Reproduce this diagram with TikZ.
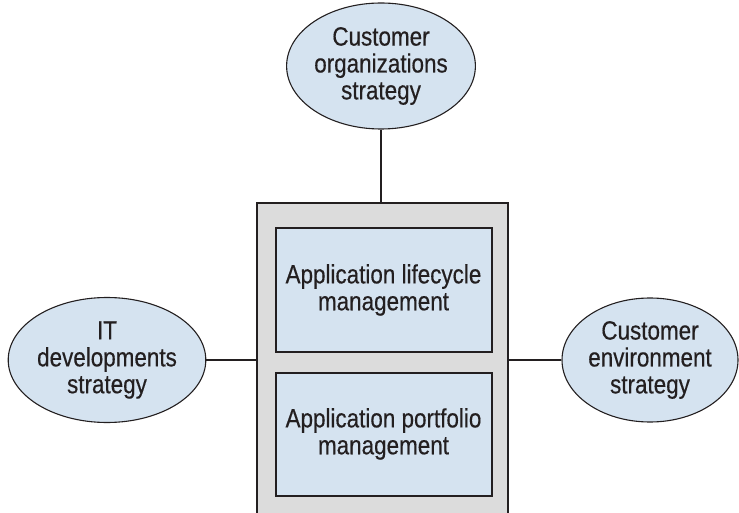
\documentclass[tikz,border=0pt]{standalone}
\usepackage{fontspec}
\setmainfont{Liberation Sans}[FakeStretch=0.85,FakeBold=0.4]
\usetikzlibrary{shapes.geometric}
\definecolor{lineC}{HTML}{231F20}
\definecolor{blueF}{HTML}{D5E3F0}
\definecolor{greyF}{HTML}{DCDCDC}
\begin{document}
\begin{tikzpicture}[x=1bp,y=-1bp,
  txt/.style={font=\fontsize{26.5}{27}\selectfont, text=lineC, align=center},
  oval/.style={ellipse, draw=lineC, line width=1.1bp, fill=blueF, inner sep=0pt, txt},
  inbox/.style={rectangle, draw=lineC, line width=2bp, fill=blueF, minimum width=216bp, minimum height=123bp, inner sep=0pt, txt},
  conn/.style={draw=lineC, line width=1.8bp}]
\useasboundingbox (0,0) rectangle (739,513);
\node[fill=greyF, minimum width=251bp, minimum height=312bp, inner sep=0pt] (outer) at (382.5,359) {};
\draw[conn] (outer.south west) |- (outer.north east) -- (outer.south east);
\node[inbox] (alm) at (383.5,290) {Application lifecycle\\management};
\node[inbox] (apm) at (383.5,434) {Application portfolio\\management};
\node[oval, minimum width=170bp, minimum height=126bp] (top) at (381,66) {Customer\\organizations\\strategy};
\node[oval, minimum width=190bp, minimum height=125bp] (left) at (107,360) {IT\\developments\\strategy};
\node[oval, minimum width=176bp, minimum height=124bp] (right) at (650,360) {Customer\\environment\\strategy};
\draw[conn] (top.south) -- (top.south |- outer.north);
\draw[conn] (left.east) -- (left.east -| outer.west);
\draw[conn] (right.west) -- (right.west -| outer.east);
\end{tikzpicture}
\end{document}
